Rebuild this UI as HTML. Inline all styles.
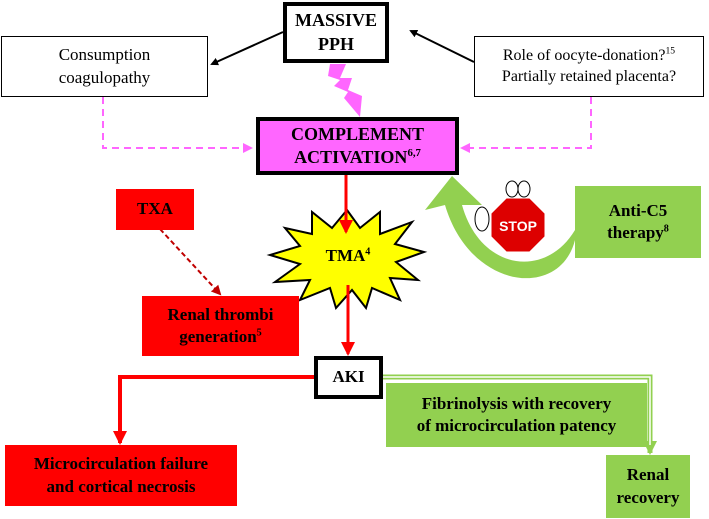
<!DOCTYPE html>
<html><head><style>
body{margin:0;width:709px;height:519px;background:#fff;position:relative;overflow:hidden;font-family:"Liberation Serif",serif}
.b{position:absolute;box-sizing:border-box;display:flex;align-items:center;justify-content:center;text-align:center;line-height:1.3}
.bold{font-weight:bold}
sup{font-size:60%;vertical-align:super;line-height:0}
</style></head><body>
<svg width="709" height="519" style="position:absolute;left:0;top:0">
<defs>
<marker id="ab" markerWidth="8" markerHeight="8" refX="6" refY="4" orient="auto" markerUnits="userSpaceOnUse"><path d="M0,0 L8,4 L0,8z" fill="#000"/></marker>
<marker id="ap" markerWidth="10" markerHeight="10" refX="8" refY="5" orient="auto" markerUnits="userSpaceOnUse"><path d="M0,0 L10,5 L0,10z" fill="#ff66ff"/></marker>
<marker id="ar" markerWidth="14" markerHeight="14" refX="12" refY="7" orient="auto" markerUnits="userSpaceOnUse"><path d="M0,0 L14,7 L0,14z" fill="#f00"/></marker>
<marker id="adr" markerWidth="10" markerHeight="10" refX="8" refY="5" orient="auto" markerUnits="userSpaceOnUse"><path d="M0,0 L10,5 L0,10z" fill="#c00000"/></marker>
<marker id="ag" markerWidth="14" markerHeight="14" refX="12" refY="7" orient="auto" markerUnits="userSpaceOnUse"><path d="M0,0 L14,7 L0,14z" fill="#92d050"/></marker>
</defs>
<line x1="283" y1="32" x2="212" y2="64" stroke="#000" stroke-width="2" marker-end="url(#ab)"/>
<line x1="474" y1="62" x2="411" y2="31" stroke="#000" stroke-width="2" marker-end="url(#ab)"/>
<polyline points="103,97 103,148 251,148" fill="none" stroke="#ff66ff" stroke-width="2" stroke-dasharray="7,5" marker-end="url(#ap)"/>
<polyline points="591,97 591,148 462,148" fill="none" stroke="#ff66ff" stroke-width="2" stroke-dasharray="7,5" marker-end="url(#ap)"/>
<polygon points="330,64 346,64 340,78 352,78 348,90 362,96 360,117 344,98 348,92 334,86 340,80 328,76" fill="#ff66ff"/>
<polygon fill="#ffff00" stroke="#000" stroke-width="2" points="347,210 360,228 380,212 380,234 412,222 395,244 424,252 396,262 418,280 390,278 400,300 372,288 366,308 352,290 336,308 330,288 300,300 310,280 275,282 300,264 270,255 300,246 285,228 312,234 312,212 332,228"/>
<line x1="346" y1="175" x2="346" y2="232" stroke="#f00" stroke-width="3" marker-end="url(#ar)"/>
<line x1="160" y1="229" x2="220" y2="294" stroke="#c00000" stroke-width="2" stroke-dasharray="5,3" marker-end="url(#adr)"/>
<line x1="348" y1="285" x2="348" y2="354" stroke="#f00" stroke-width="3" marker-end="url(#ar)"/>
<polyline points="314,377 120,377 120,443" fill="none" stroke="#f00" stroke-width="4" marker-end="url(#ar)"/>
<polyline points="382,377 650,377 650,453" fill="none" stroke="#92d050" stroke-width="5" marker-end="url(#ag)"/>
<polyline points="382,377 650,377 650,445" fill="none" stroke="#fff" stroke-width="1.5"/>
<path d="M575,240 C560,300 470,290 445,205 L425,210 L452,176 L482,205 L462,205 C480,270 545,280 575,230 Z" fill="#92d050"/>
<g transform="translate(518,225)">
<polygon points="-12,-28 12,-28 28,-12 28,12 12,28 -12,28 -28,12 -28,-12" fill="#d00" stroke="#fff" stroke-width="3"/>
<text x="0" y="6" font-family="Liberation Sans" font-weight="bold" font-size="14" fill="#fff" text-anchor="middle">STOP</text>
<ellipse cx="-6" cy="-36" rx="6" ry="8" fill="#fff" stroke="#000"/><ellipse cx="6" cy="-36" rx="6" ry="8" fill="#fff" stroke="#000"/>
<ellipse cx="-36" cy="-6" rx="7" ry="12" fill="#fff" stroke="#000"/>
</g>
</svg>
<div class="b bold" style="left:283px;top:2px;width:106px;height:61px;border:4px solid #000;background:#fff;font-size:18px"><span>MASSIVE<br>PPH</span></div>
<div class="b" style="left:1px;top:36px;width:207px;height:61px;border:1px solid #000;background:#fff;font-size:17px"><span>Consumption<br>coagulopathy</span></div>
<div class="b" style="left:474px;top:36px;width:230px;height:61px;border:1px solid #000;background:#fff;font-size:16px"><span>Role of oocyte-donation?<sup>15</sup><br>Partially retained placenta?</span></div>
<div class="b bold" style="left:256px;top:117px;width:203px;height:58px;border:4px solid #000;background:#ff66ff;font-size:18px"><span>COMPLEMENT<br>ACTIVATION<sup>6,7</sup></span></div>
<div class="b bold" style="left:300px;top:244px;width:96px;height:24px;font-size:17px"><span>TMA<sup>4</sup></span></div>
<div class="b bold" style="left:116px;top:189px;width:78px;height:41px;background:#f00;font-size:17px"><span>TXA</span></div>
<div class="b bold" style="left:142px;top:296px;width:157px;height:60px;background:#f00;font-size:17px"><span>Renal thrombi<br>generation<sup>5</sup></span></div>
<div class="b bold" style="left:314px;top:356px;width:69px;height:43px;border:4px solid #000;background:#fff;font-size:17px"><span>AKI</span></div>
<div class="b bold" style="left:5px;top:445px;width:232px;height:61px;background:#f00;font-size:17px"><span>Microcirculation failure<br>and cortical necrosis</span></div>
<div class="b bold" style="left:386px;top:383px;width:261px;height:64px;background:#92d050;font-size:17px"><span>Fibrinolysis with recovery<br>of microcirculation patency</span></div>
<div class="b bold" style="left:606px;top:455px;width:84px;height:63px;background:#92d050;font-size:17px"><span>Renal<br>recovery</span></div>
<div class="b bold" style="left:575px;top:186px;width:126px;height:72px;background:#92d050;font-size:17px"><span>Anti-C5<br>therapy<sup>8</sup></span></div>
</body></html>
